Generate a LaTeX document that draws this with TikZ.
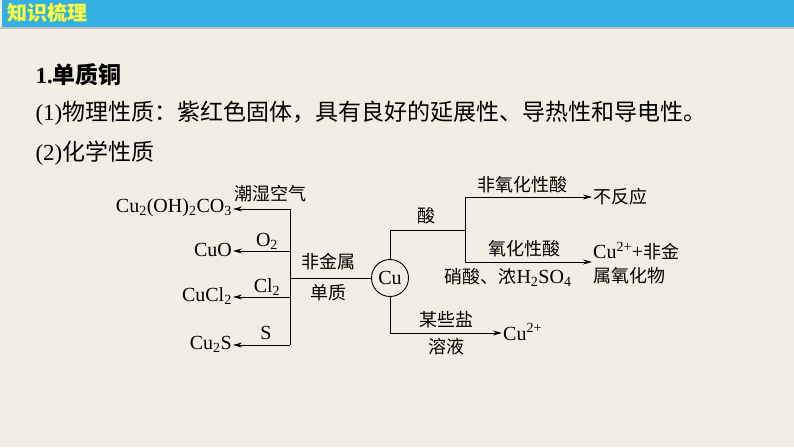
\documentclass[tikz,border=0pt]{standalone}
\usepackage{fontspec}
\setmainfont{Liberation Serif}
\newfontfamily\cjk{Noto Sans CJK SC}
\usetikzlibrary{arrows.meta,positioning}
\definecolor{bgbeige}{RGB}{243,238,228}
\definecolor{barblue}{RGB}{52,176,226}
\definecolor{titleyellow}{RGB}{255,255,60}

\begin{document}
\begin{tikzpicture}[
  x=1pt, y=-1pt,
  font=\fontsize{20}{22}\selectfont,
  lbl/.style={inner sep=1pt},
  cjktext/.style={font=\fontsize{18}{20}\selectfont\cjk},
  link/.style={line width=0.9pt},
  arr/.style={link, -{Stealth[length=9pt,width=5pt]}},
]
  % Background and title bar
  \fill[bgbeige] (0,0) rectangle (794,447);
  \useasboundingbox (0,0) rectangle (794,447);
  \fill[barblue] (2,0) rectangle (794,27);
  \fill[gray!50] (0,27) rectangle (794,29);
  \node[anchor=west, text=titleyellow, font=\fontsize{20}{22}\selectfont\cjk\bfseries] (title) at (4,13) {知识梳理};

  % Text lines
  \node[anchor=west, font=\fontsize{23}{25}\selectfont\bfseries] (sec1) at (32,75) {1.{\cjk 单质铜}};
  \node[anchor=west, font=\fontsize{23}{25}\selectfont] (phys) at (32,113) {(1){\cjk 物理性质：紫红色固体，具有良好的延展性、导热性和导电性。}};
  \node[anchor=west, font=\fontsize{23}{25}\selectfont] (chem) at (32,153) {(2){\cjk 化学性质}};

  % Centre
  \node[draw, circle, link, minimum size=37pt, inner sep=0pt] (cu) at (390,278) {Cu};

  % Left branch
  \coordinate (jl) at (290,278);
  \coordinate (lt) at (290,209);
  \coordinate (lo) at (290,251);
  \coordinate (lc) at (290,297);
  \coordinate (ls) at (290,345);
  \draw[link] (cu.west) -- (jl);
  \draw[link] (lt) -- (ls);
  \node[lbl, anchor=east] (p1) at (233,208) {Cu\textsubscript{2}(OH)\textsubscript{2}CO\textsubscript{3}};
  \node[lbl, anchor=east] (p2) at (233,250) {CuO};
  \node[lbl, anchor=east] (p3) at (233,296) {CuCl\textsubscript{2}};
  \node[lbl, anchor=east] (p4) at (233,344) {Cu\textsubscript{2}S};
  \draw[arr] (lt) -- (p1.east |- lt);
  \draw[arr] (lo) -- (p2.east |- lo);
  \draw[arr] (lc) -- (p3.east |- lc);
  \draw[arr] (ls) -- (p4.east |- ls);
  \node[lbl, cjktext] (l1) at (270,194) {潮湿空气};
  \node[lbl] (l2) at (267,241) {O\textsubscript{2}};
  \node[lbl] (l3) at (267,287) {Cl\textsubscript{2}};
  \node[lbl] (l4) at (266,333) {S};
  \node[lbl, cjktext] (l5) at (328,262) {非金属};
  \node[lbl, cjktext] (l6) at (328,293) {单质};

  % Acid branch
  \coordinate (au) at (390,230);
  \coordinate (aj) at (465,230);
  \coordinate (at) at (465,197);
  \coordinate (ab) at (465,262);
  \draw[link] (cu.north) -- (au) -- (aj);
  \draw[link] (at) -- (ab);
  \node[lbl, anchor=west, cjktext] (r1) at (592,197) {不反应};
  \node[lbl, anchor=west] (r2) at (592,251) {Cu\textsuperscript{2+}+{\fontsize{18}{20}\selectfont\cjk 非金}};
  \node[lbl, anchor=west, cjktext] (r3) at (592,276) {属氧化物};
  \draw[arr] (at) -- (r1.west |- at);
  \draw[arr] (ab) -- (r1.west |- ab);
  \node[lbl, cjktext] (a1) at (426,216) {酸};
  \node[lbl, cjktext] (a2) at (522,185) {非氧化性酸};
  \node[lbl, cjktext] (a3) at (524,249) {氧化性酸};
  \node[lbl] (a4) at (508,277) {{\fontsize{18}{20}\selectfont\cjk 硝酸、浓}H\textsubscript{2}SO\textsubscript{4}};

  % Salt branch
  \coordinate (sd) at (390,333);
  \node[lbl, anchor=west] (s1) at (502,332) {Cu\textsuperscript{2+}};
  \draw[link] (cu.south) -- (sd);
  \draw[arr] (sd) -- (s1.west |- sd);
  \node[lbl, cjktext] (s2) at (446,320) {某些盐};
  \node[lbl, cjktext] (s3) at (446,347) {溶液};
\end{tikzpicture}
\end{document}
